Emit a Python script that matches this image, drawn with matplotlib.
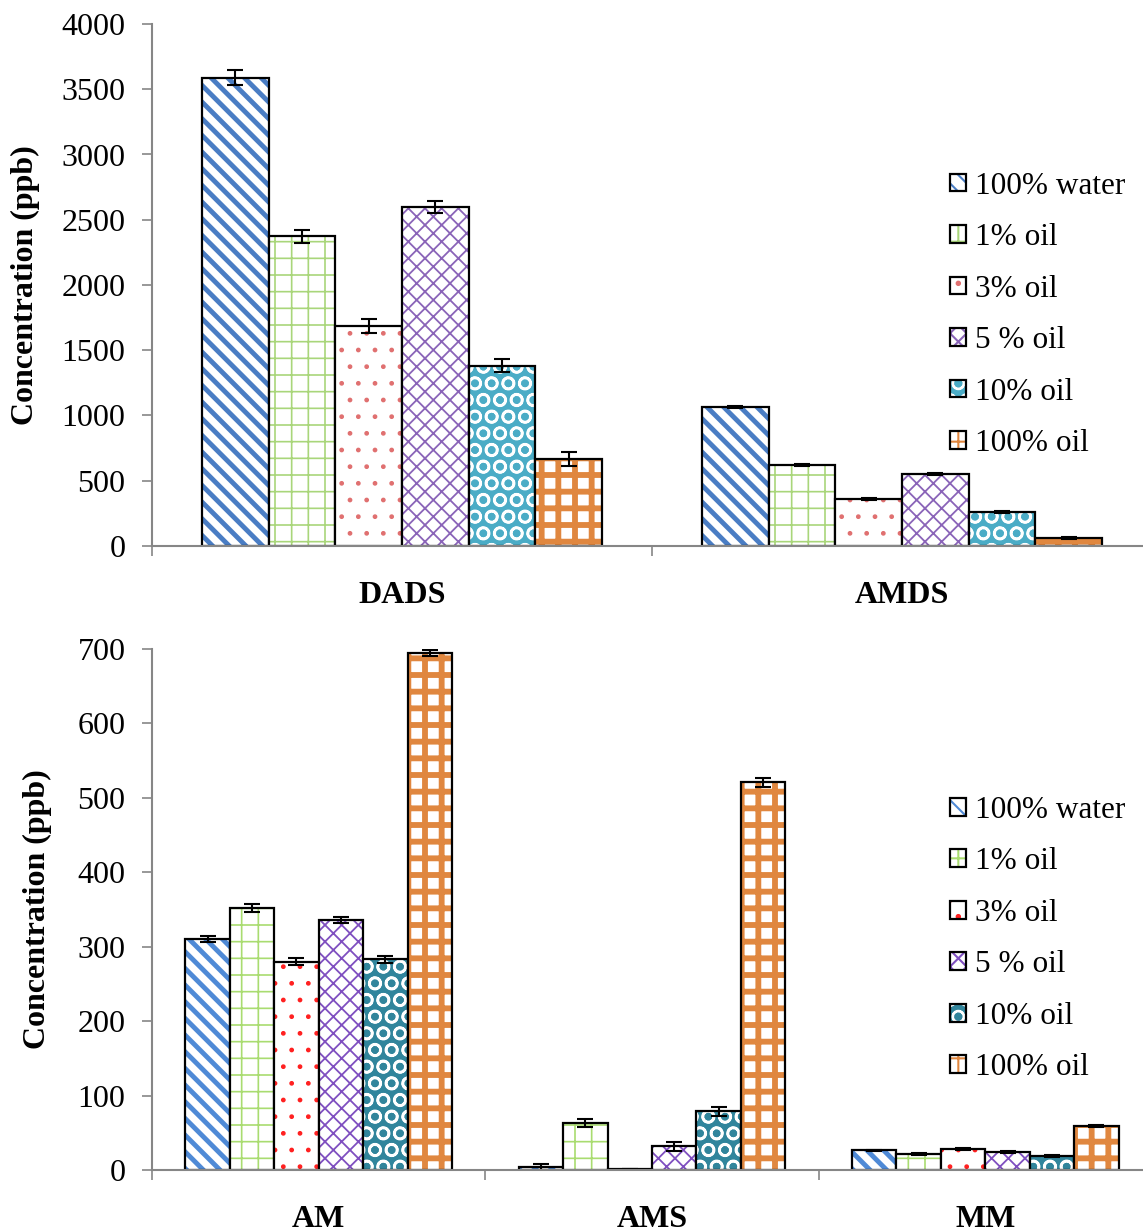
import matplotlib
matplotlib.use('Agg')
import matplotlib.pyplot as plt
import numpy as np
from matplotlib.patches import Patch

plt.rcParams['font.family'] = ['Liberation Serif', 'DejaVu Serif']
plt.rcParams['hatch.linewidth'] = 1.5

series = ['100% water', '1% oil', '3% oil', '5 % oil', '10% oil', '100% oil']

top_cats = ['DADS', 'AMDS']
top_vals = [[3590, 1065],
            [2375, 620],
            [1686, 360],
            [2598, 552],
            [1380, 262],
            [667, 62]]
top_err = [[55, 6], [50, 6], [50, 6], [45, 6], [50, 6], [55, 6]]

bot_cats = ['AM', 'AMS', 'MM']
bot_vals = [[311, 4.5, 26.5],
            [352, 63, 21.5],
            [280, 1, 28],
            [336, 32, 24],
            [283, 79, 19],
            [694, 521, 59]]
bot_err = [[4, 4, 1], [5, 5, 1], [5, 0, 1], [4, 6, 1], [5, 6, 1], [4, 6, 1]]

# (facecolor, hatch colour, hatch, hatch linewidth)
top_styles = [('white', '#4a7dc4', '\\\\', 3.5),
              ('white', '#a9d67a', '+', 1.2),
              ('white', '#e07070', '.', 1.0),
              ('white', '#8a64b8', 'xx', 1.3),
              ('#4bacc6', 'white', 'O', 1.8),
              ('white', '#e0873f', '+', 4.2)]
bot_styles = [('white', '#4f8ad6', '\\\\', 3.5),
              ('white', '#a9dc70', '+', 1.2),
              ('white', '#ff2020', '.', 1.0),
              ('white', '#7f4fc0', 'xx', 1.3),
              ('#31859c', 'white', 'O', 1.8),
              ('white', '#e0873f', '+', 4.2)]

fig = plt.figure(figsize=(11.43, 12.32), dpi=100)
ax1 = fig.add_axes([152/1143, 1-546/1232, 1000/1143, 522/1232])
ax2 = fig.add_axes([152/1143, 1-1170/1232, 1000/1143, 521/1232])


def draw(ax, cats, vals, errs, styles, ymax, ystep, label_x):
    n = len(series)
    w = 0.8 / n
    base = np.arange(len(cats)) + 0.1
    handles = []
    for i in range(n):
        x = base + w * (i + 0.5)
        fc, hc, h, hlw = styles[i]
        b1 = ax.bar(x, vals[i], w, color=fc, edgecolor=hc, hatch=h, linewidth=0)
        for p in b1:
            if hasattr(p, 'set_hatch_linewidth'):
                p.set_hatch_linewidth(hlw)
        ax.bar(x, vals[i], w, fill=False, edgecolor='black', linewidth=1.6,
               yerr=errs[i], capsize=6,
               error_kw=dict(elinewidth=1.5, capthick=1.5, ecolor='black'))
        hp = Patch(facecolor=fc, edgecolor=hc, hatch=h, linewidth=0)
        if hasattr(hp, 'set_hatch_linewidth'):
            hp.set_hatch_linewidth(hlw)
        op = Patch(fill=False, edgecolor='black', linewidth=1.6)
        handles.append((hp, op))

    ax.set_xlim(0, len(cats))
    ax.set_ylim(0, ymax)
    ax.set_yticks(np.arange(0, ymax + 1, ystep))
    ax.set_xticks(np.arange(len(cats) + 1))
    ax.set_xticklabels([])
    ax.set_xticks(np.arange(len(cats)) + 0.5, minor=True)
    ax.set_xticklabels(cats, minor=True, fontweight='bold', fontsize=23)
    ax.tick_params(axis='x', which='minor', length=0, pad=25)
    ax.tick_params(axis='x', which='major', length=7, color='#868686', width=1.2)
    ax.tick_params(axis='y', length=7, color='#868686', width=1.2, labelsize=23, pad=12)
    for s in ['top', 'right']:
        ax.spines[s].set_visible(False)
    for s in ['left', 'bottom']:
        ax.spines[s].set_color('#868686')
        ax.spines[s].set_linewidth(1.5)
    ax.set_ylabel('Concentration (ppb)', fontweight='bold', fontsize=23)
    ax.yaxis.set_label_coords(label_x, 0.5)
    ax.legend(handles, series, loc='center left', bbox_to_anchor=(0.77, 0.443),
              frameon=False, fontsize=22.5, handlelength=0.5, handleheight=0.5,
              handletextpad=0.3, labelspacing=0.72)


draw(ax1, top_cats, top_vals, top_err, top_styles, 4000, 500, -0.112)
draw(ax2, bot_cats, bot_vals, bot_err, bot_styles, 700, 100, -0.100)

fig.savefig('out.png', dpi=100)
